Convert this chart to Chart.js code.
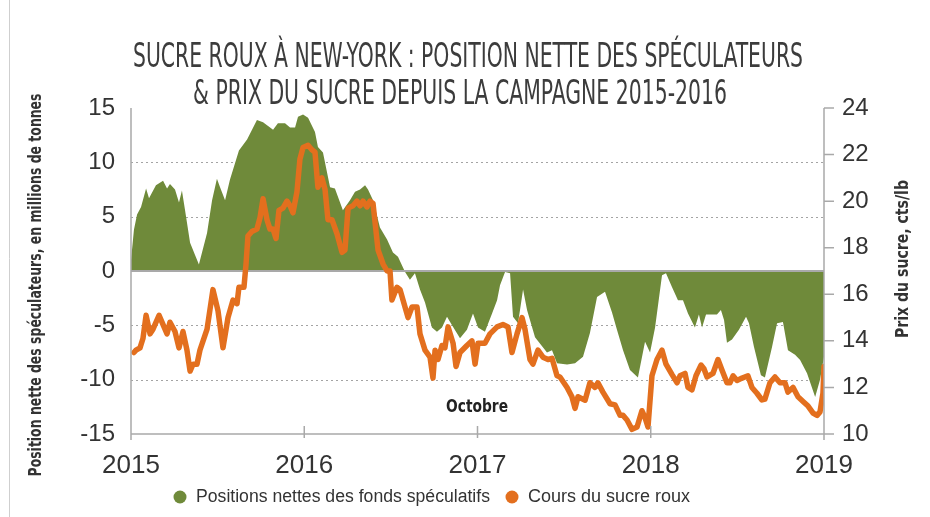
<!DOCTYPE html>
<html lang="fr">
<head>
<meta charset="utf-8">
<script src="https://cdn.jsdelivr.net/npm/chart.js@4.4.1/dist/chart.umd.min.js"></script>
<style>
  html, body { margin: 0; padding: 0; background: #fff; }
  #wrap { width: 930px; height: 517px; position: relative; }
</style>
</head>
<body>
<div id="wrap"><canvas id="myChart"></canvas></div>
<script>
'use strict';

const titleLines = [
  'SUCRE ROUX À NEW-YORK : POSITION NETTE DES SPÉCULATEURS',
  '& PRIX DU SUCRE DEPUIS LA CAMPAGNE 2015-2016'
];
const leftTitle = 'Position nette des spéculateurs, en millions de tonnes';
const rightTitle = 'Prix du sucre, cts/lb';
const legendLabels = ['Positions nettes des fonds spéculatifs', 'Cours du sucre roux'];
const noteText = 'Octobre';

// net speculative positions (million t), dates as decimal years
const posYears = [
  2015.000, 2015.017, 2015.035, 2015.058, 2015.087, 2015.104, 2015.144, 2015.185, 2015.208, 2015.225,
  2015.254, 2015.277, 2015.294, 2015.312, 2015.341, 2015.369, 2015.392, 2015.439, 2015.468, 2015.496,
  2015.514, 2015.543, 2015.571, 2015.623, 2015.670, 2015.727, 2015.762, 2015.820, 2015.848, 2015.889,
  2015.918, 2015.947, 2015.964, 2015.993, 2016.022, 2016.062, 2016.079, 2016.108, 2016.149, 2016.177,
  2016.223, 2016.264, 2016.293, 2016.322, 2016.351, 2016.368, 2016.397, 2016.437, 2016.478, 2016.512,
  2016.541, 2016.582, 2016.610, 2016.639, 2016.668, 2016.697, 2016.737, 2016.766, 2016.795, 2016.824,
  2016.853, 2016.899, 2016.939, 2016.974, 2017.003, 2017.043, 2017.084, 2017.113, 2017.130, 2017.159,
  2017.188, 2017.205, 2017.234, 2017.263, 2017.286, 2017.332, 2017.401, 2017.430, 2017.459, 2017.517,
  2017.563, 2017.609, 2017.649, 2017.690, 2017.736, 2017.776, 2017.805, 2017.840, 2017.880, 2017.926,
  2017.967, 2017.996, 2018.025, 2018.065, 2018.088, 2018.123, 2018.157, 2018.186, 2018.215, 2018.255,
  2018.278, 2018.296, 2018.319, 2018.382, 2018.405, 2018.423, 2018.440, 2018.469, 2018.509, 2018.550,
  2018.567, 2018.596, 2018.636, 2018.659, 2018.700, 2018.729, 2018.763, 2018.792, 2018.833, 2018.862,
  2018.902, 2018.949, 2018.977, 2019.000
];
const posValues = [
  1.0, 3.8, 5.2, 5.9, 7.6, 6.7, 7.9, 8.3, 7.6, 8.0,
  7.5, 6.3, 7.4, 5.6, 2.6, 1.5, 0.6, 3.5, 6.5, 8.5,
  7.7, 6.5, 8.4, 11.1, 12.1, 13.9, 13.7, 13.0, 13.6, 13.6,
  13.2, 13.2, 14.2, 14.4, 14.1, 12.8, 11.4, 10.9, 7.7, 7.6,
  5.6, 6.5, 7.3, 7.5, 7.9, 7.5, 6.5, 4.0, 2.9, 1.7,
  1.3, -0.1, -0.8, -0.2, -1.7, -2.9, -5.2, -5.6, -5.2, -4.2,
  -5.0, -6.2, -5.4, -3.9, -5.2, -5.6, -3.9, -2.7, -1.3, -0.1,
  -0.2, -4.2, -4.8, -1.7, -3.6, -6.1, -7.5, -7.3, -8.5, -8.6,
  -8.5, -7.9, -5.7, -2.4, -1.9, -3.8, -5.4, -7.3, -9.1, -9.8,
  -6.5, -7.5, -5.2, -0.4, -0.2, -1.5, -2.7, -2.7, -3.9, -5.2,
  -4.0, -5.2, -4.0, -4.0, -3.6, -4.5, -6.6, -6.3, -5.4, -4.2,
  -4.8, -7.0, -9.6, -9.8, -7.0, -4.8, -4.7, -7.3, -7.7, -8.2,
  -9.4, -11.6, -10.0, -7.9
];

// raw sugar price (cts/lb), dates as decimal years
const priceYears = [
  2015.017, 2015.029, 2015.052, 2015.069, 2015.087, 2015.110, 2015.127, 2015.162, 2015.185, 2015.208,
  2015.225, 2015.254, 2015.277, 2015.300, 2015.323, 2015.341, 2015.358, 2015.381, 2015.398, 2015.439,
  2015.473, 2015.502, 2015.531, 2015.560, 2015.589, 2015.612, 2015.623, 2015.652, 2015.664, 2015.675,
  2015.698, 2015.727, 2015.745, 2015.762, 2015.785, 2015.802, 2015.820, 2015.837, 2015.854, 2015.877,
  2015.900, 2015.918, 2015.935, 2015.958, 2015.975, 2015.993, 2016.022, 2016.045, 2016.062, 2016.079,
  2016.102, 2016.120, 2016.137, 2016.160, 2016.189, 2016.218, 2016.235, 2016.253, 2016.281, 2016.304,
  2016.322, 2016.339, 2016.362, 2016.379, 2016.397, 2016.426, 2016.455, 2016.478, 2016.495, 2016.506,
  2016.535, 2016.553, 2016.570, 2016.599, 2016.622, 2016.651, 2016.668, 2016.697, 2016.726, 2016.743,
  2016.755, 2016.772, 2016.795, 2016.812, 2016.830, 2016.859, 2016.876, 2016.899, 2016.939, 2016.968,
  2016.986, 2017.003, 2017.043, 2017.072, 2017.113, 2017.147, 2017.176, 2017.199, 2017.228, 2017.257,
  2017.274, 2017.303, 2017.320, 2017.349, 2017.378, 2017.407, 2017.430, 2017.459, 2017.476, 2017.517,
  2017.545, 2017.563, 2017.580, 2017.621, 2017.649, 2017.678, 2017.695, 2017.724, 2017.765, 2017.794,
  2017.823, 2017.840, 2017.863, 2017.892, 2017.921, 2017.949, 2017.967, 2017.984, 2018.007, 2018.036,
  2018.065, 2018.088, 2018.123, 2018.152, 2018.169, 2018.198, 2018.215, 2018.238, 2018.261, 2018.290,
  2018.307, 2018.325, 2018.359, 2018.388, 2018.411, 2018.440, 2018.457, 2018.475, 2018.498, 2018.527,
  2018.561, 2018.584, 2018.613, 2018.642, 2018.659, 2018.688, 2018.717, 2018.746, 2018.775, 2018.792,
  2018.821, 2018.850, 2018.879, 2018.908, 2018.937, 2018.960, 2018.977, 2018.994, 2019.000
];
const priceValues = [
  13.5, 13.6, 13.7, 14.1, 15.1, 14.3, 14.5, 15.1, 14.7, 14.3,
  14.8, 14.4, 13.7, 14.4, 13.6, 12.7, 13.0, 13.0, 13.6, 14.5,
  16.2, 15.3, 13.7, 15.0, 15.75, 15.6, 16.3, 16.3, 17.3, 18.5,
  18.7, 18.8, 19.3, 20.1, 19.2, 18.8, 18.8, 18.4, 19.6, 19.7,
  20.0, 19.8, 19.5, 20.4, 21.8, 22.3, 22.4, 22.2, 22.1, 20.6,
  21.0, 20.5, 19.2, 19.2, 18.6, 17.8, 17.9, 19.7, 19.8, 20.0,
  19.8, 20.0, 19.75, 20.0, 19.9, 17.9, 17.3, 17.0, 17.0, 15.75,
  16.3, 16.2, 15.75, 15.0, 15.45, 15.45, 14.3, 13.6, 13.3, 12.4,
  13.6, 13.2, 13.8, 13.7, 14.6, 13.9, 12.9, 13.5, 13.8, 14.0,
  13.0, 13.9, 13.9, 14.3, 14.6, 14.7, 14.6, 13.5, 14.3, 15.0,
  14.5, 13.2, 13.0, 13.6, 13.3, 13.2, 13.25, 12.5, 12.45, 12.0,
  11.6, 11.1, 11.6, 11.45, 12.2, 12.0, 12.2, 11.8, 11.3, 11.25,
  10.8, 10.8, 10.6, 10.2, 10.3, 11.0, 10.7, 10.3, 12.5, 13.2,
  13.6, 13.0, 12.55, 12.2, 12.5, 12.6, 12.0, 11.9, 12.5, 12.96,
  12.8, 12.45, 12.6, 13.2, 12.75, 12.2, 12.2, 12.5, 12.3, 12.4,
  12.5, 12.0, 11.75, 11.46, 11.5, 12.2, 12.45, 12.2, 12.2, 11.8,
  12.0, 11.6, 11.4, 11.2, 10.9, 10.8, 10.95, 11.75, 12.9
];

const dottedLevels = [10, 5, -5, -10];
const rightTicks = [10, 12, 14, 16, 18, 20, 22, 24];
const innerYearTicks = [2016, 2017, 2018];

const GREEN = '#6f8a3a';
const ORANGE = '#e36f1e';
const AXIS = '#a9a9a9';
const TEXT = '#333333';
const NARROW = '"Liberation Sans Narrow", "DejaVu Sans Condensed", "Liberation Sans", sans-serif';
const SANS = '"Liberation Sans", Arial, sans-serif';

const decor = {
  id: 'decor',
  beforeDatasetsDraw(chart) {
    const { ctx, chartArea: a, scales: { y } } = chart;
    ctx.save();
    ctx.strokeStyle = '#a4a4a4';
    ctx.lineWidth = 1;
    ctx.setLineDash([2, 3]);
    dottedLevels.forEach(v => {
      const py = Math.round(y.getPixelForValue(v)) + 0.5;
      ctx.beginPath();
      ctx.moveTo(a.left, py);
      ctx.lineTo(a.right, py);
      ctx.stroke();
    });
    ctx.restore();
  },
  afterDatasetDraw(chart, args) {
    if (args.index !== 0) return;
    const { ctx, chartArea: a, scales: { y } } = chart;
    const py = y.getPixelForValue(0);
    ctx.save();
    ctx.strokeStyle = AXIS;
    ctx.lineWidth = 2;
    ctx.beginPath();
    ctx.moveTo(a.left, py);
    ctx.lineTo(a.right, py);
    ctx.stroke();
    ctx.restore();
  },
  afterDraw(chart) {
    const { ctx, chartArea: a, scales: { x, y1 } } = chart;
    ctx.save();

    // frame line on the far left
    ctx.strokeStyle = '#cfcfcf';
    ctx.lineWidth = 1;
    ctx.beginPath();
    ctx.moveTo(9.5, 0);
    ctx.lineTo(9.5, 517);
    ctx.stroke();

    // axes
    ctx.strokeStyle = AXIS;
    ctx.lineWidth = 1.5;
    ctx.beginPath();
    ctx.moveTo(a.left, a.top);
    ctx.lineTo(a.left, a.bottom + 6);
    ctx.moveTo(a.right, a.top);
    ctx.lineTo(a.right, a.bottom + 6);
    ctx.moveTo(a.left, a.bottom);
    ctx.lineTo(a.right, a.bottom);
    rightTicks.forEach(v => {
      const py = y1.getPixelForValue(v);
      ctx.moveTo(a.right, py);
      ctx.lineTo(a.right + 10, py);
    });
    innerYearTicks.forEach(v => {
      const px = x.getPixelForValue(v);
      ctx.moveTo(px, a.bottom - 8);
      ctx.lineTo(px, a.bottom + 4);
    });
    ctx.stroke();

    // title
    ctx.fillStyle = '#3c3c3c';
    ctx.textAlign = 'center';
    ctx.textBaseline = 'alphabetic';
    ctx.font = '33px ' + NARROW;
    ctx.fillText(titleLines[0], 468, 67, 670);
    ctx.fillText(titleLines[1], 460, 104, 534);

    // axis titles
    ctx.fillStyle = TEXT;
    ctx.font = 'bold 17px ' + NARROW;
    ctx.textBaseline = 'middle';
    ctx.save();
    ctx.translate(37, 285);
    ctx.rotate(-Math.PI / 2);
    ctx.fillText(leftTitle, 0, 0, 383);
    ctx.restore();
    ctx.save();
    ctx.translate(904, 259);
    ctx.rotate(-Math.PI / 2);
    ctx.fillText(rightTitle, 0, 0, 158);
    ctx.restore();

    // "Octobre" note
    ctx.fillStyle = '#222';
    ctx.font = 'bold 17px ' + NARROW;
    ctx.fillText(noteText, 477, 408, 62);

    // legend
    const items = [
      { dot: 180, text: 196, w: 294, color: GREEN },
      { dot: 512, text: 528, w: 169, color: ORANGE }
    ];
    ctx.font = '18px ' + SANS;
    ctx.textAlign = 'left';
    items.forEach((it, i) => {
      ctx.fillStyle = it.color;
      ctx.beginPath();
      ctx.arc(it.dot, 497, 6.5, 0, Math.PI * 2);
      ctx.fill();
      ctx.fillStyle = TEXT;
      ctx.fillText(legendLabels[i], it.text, 497, it.w);
    });

    ctx.restore();
  }
};

const ctx = document.getElementById('myChart').getContext('2d');

const myChart = new Chart(ctx, {
  type: 'line',
  data: {
    datasets: [
      {
        label: legendLabels[0],
        data: posYears.map((t, i) => ({ x: t, y: posValues[i] })),
        yAxisID: 'y',
        fill: 'origin',
        backgroundColor: GREEN,
        borderWidth: 0,
        pointRadius: 0,
        tension: 0,
        order: 2
      },
      {
        label: legendLabels[1],
        data: priceYears.map((t, i) => ({ x: t, y: priceValues[i] })),
        yAxisID: 'y1',
        fill: false,
        borderColor: ORANGE,
        borderWidth: 5.5,
        borderJoinStyle: 'round',
        borderCapStyle: 'round',
        pointRadius: 0,
        tension: 0,
        order: 1
      }
    ]
  },
  options: {
    responsive: true,
    maintainAspectRatio: false,
    animation: false,
    layout: { padding: { top: 108, bottom: 38, left: 0, right: 0 } },
    plugins: {
      legend: { display: false },
      tooltip: { enabled: false },
      title: { display: false }
    },
    scales: {
      x: {
        type: 'linear',
        min: 2015,
        max: 2019,
        grid: { display: false, drawTicks: false },
        border: { display: false },
        afterFit: s => { s.height = 45; },
        ticks: {
          stepSize: 1,
          padding: 16,
          color: TEXT,
          font: { family: SANS, size: 26 },
          callback: v => String(v)
        }
      },
      y: {
        position: 'left',
        min: -15,
        max: 15,
        grid: { display: false, drawTicks: false },
        border: { display: false },
        afterFit: s => { s.width = 131; },
        ticks: {
          stepSize: 5,
          padding: 16,
          color: TEXT,
          font: { family: SANS, size: 24 }
        }
      },
      y1: {
        position: 'right',
        min: 10,
        max: 24,
        grid: { display: false, drawTicks: false },
        border: { display: false },
        afterFit: s => { s.width = 106; },
        ticks: {
          stepSize: 2,
          padding: 18,
          color: TEXT,
          font: { family: SANS, size: 24 }
        }
      }
    }
  },
  plugins: [decor]
});
</script>
</body>
</html>
